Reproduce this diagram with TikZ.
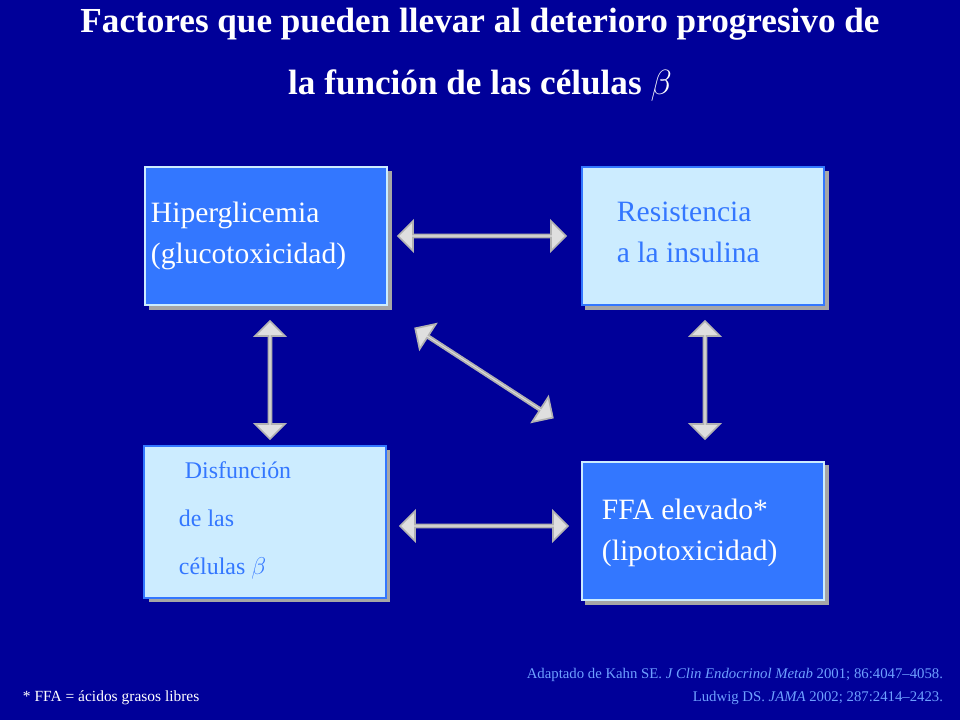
\documentclass[tikz,border=0pt]{standalone}
\usepackage{fontspec}
\setmainfont{Liberation Serif}
\usetikzlibrary{shapes.arrows}
\definecolor{navy}{RGB}{0,0,153}
\definecolor{boxblue}{RGB}{51,119,255}
\definecolor{boxlight}{RGB}{204,236,255}
\definecolor{reftext}{RGB}{110,160,255}
\tikzset{
  box/.style={draw=boxlight, line width=1.2pt, minimum width=6.05cm, minimum height=3.45cm, inner sep=0pt},
  boxdark/.style={box, fill=boxblue},
  boxpale/.style={box, fill=boxlight, draw=boxblue},
  shade/.style={fill=gray!70, draw=none},
  darrow/.style={double arrow, fill=gray!25, draw=gray!60, line width=1.2pt, inner sep=0pt,
    minimum width=0.75cm, double arrow head extend=0.2cm, double arrow head indent=0cm},
  lbl/.style={anchor=north west, align=left, font=\fontsize{21}{29}\selectfont}
}
\begin{document}
\begin{tikzpicture}[x=0.025cm, y=-0.025cm]
  \fill[navy] (0,0) rectangle (960,720);
  \useasboundingbox (0,0) rectangle (960,720);
  % title
  \node[white, font=\bfseries\fontsize{25}{44}\selectfont, align=center] (title) at (480,55)
    {Factores que pueden llevar al deterioro progresivo de\\la función de las células $\beta$};
  % shadows
  \fill[shade] (149,171) rectangle (392,310);
  \fill[shade] (585,171) rectangle (829,310);
  \fill[shade] (149,450) rectangle (390,602);
  \fill[shade] (585,465) rectangle (829,605);
  % boxes
  \node[boxdark] (hip) at (266,236) {};
  \node[boxpale] (res) at (703,236) {};
  \node[boxpale, minimum height=3.8cm] (dis) at (265,522) {};
  \node[boxdark] (ffa) at (703,531) {};
  \node[lbl, white] (hipt) at (146,197) {Hiperglicemia\\(glucotoxicidad)};
  \node[lbl, boxblue] (rest) at (612,197) {Resistencia\\a la insulina};
  \node[lbl, boxblue, font=\fontsize{17}{34}\selectfont] (dist) at (174,457)
    {\ Disfunción\\de las\\células $\beta$};
  \node[lbl, white] (ffat) at (597,494) {FFA elevado*\\(lipotoxicidad)};
  % arrows
  \node[darrow, minimum height=4.2cm] (a1) at (482,236) {};
  \node[darrow, minimum height=4.2cm] (a2) at (484,526) {};
  \node[darrow, minimum height=2.95cm, rotate=90] (a3) at (270,380) {};
  \node[darrow, minimum height=2.95cm, rotate=90] (a4) at (705,380) {};
  \node[darrow, minimum height=4.1cm, rotate=-33] (a5) at (484,373) {};
  % notes
  \node[white, anchor=west, font=\fontsize{11}{13}\selectfont] (note) at (18,698)
    {* FFA = ácidos grasos libres};
  \node[reftext, anchor=east, font=\fontsize{10.5}{13}\selectfont] (ref1) at (948,675)
    {Adaptado de Kahn SE. \textit{J Clin Endocrinol Metab} 2001; 86:4047–4058.};
  \node[reftext, anchor=east, font=\fontsize{10.5}{13}\selectfont] (ref2) at (948,698)
    {Ludwig DS. \textit{JAMA} 2002; 287:2414–2423.};
\end{tikzpicture}
\end{document}
